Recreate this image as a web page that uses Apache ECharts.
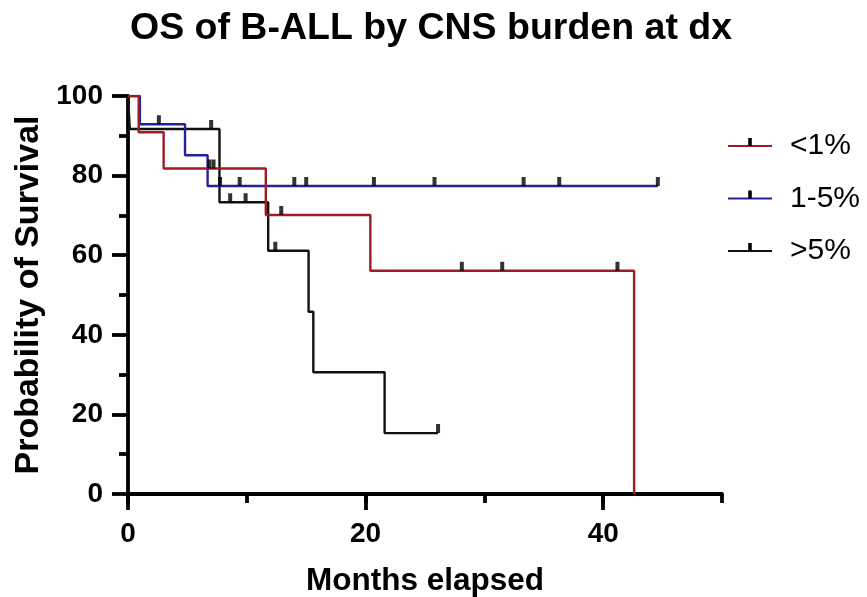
<!DOCTYPE html>
<html>
<head>
<meta charset="utf-8">
<script src="https://cdn.jsdelivr.net/npm/echarts@6/dist/echarts.min.js"></script>
<style>
  html, body { margin: 0; padding: 0; background: #fff; }
  #chart { width: 867px; height: 597px; }
</style>
</head>
<body>
<div id="chart"></div>
<script>
// survival curves (months, % surviving after the event)
var redTimes = [0, 0.9, 3.0, 11.6, 20.4, 42.6];
var redSurv = [100, 90.9, 81.8, 70.1, 56.1, 0];
var redCensor = [6.85, 7.2, 12.9, 28.1, 31.5, 41.2];

var blueTimes = [0, 1.0, 4.8, 6.7, 44.6];
var blueSurv = [100, 92.9, 85.1, 77.4, 77.4];
var blueCensor = [2.6, 7.75, 9.4, 14.0, 15.0, 20.7, 25.8, 33.3, 36.3, 44.6];

var blackTimes = [0, 0.15, 7.7, 11.8, 15.2, 15.6, 21.6, 26.1];
var blackSurv = [100, 91.7, 73.3, 61.1, 45.8, 30.6, 15.3, 15.3];
var blackCensor = [7.0, 8.6, 9.9, 12.4, 26.1];

var groups = ['<1%', '1-5%', '>5%'];
var colors = ['#9e1c22', '#23229c', '#111111'];

var xLabels = [0, 20, 40];

// little upward tick used for censored points
var tickPath = 'path://M0,0H4V9H0Z M-7,18H11Z';

function curve(times, surv) {
  return times.map(function (t, i) { return [t, surv[i]]; });
}
// value of the step curve at time t
function survAt(times, surv, t) {
  var s = surv[0];
  for (var i = 0; i < times.length; i++) {
    if (times[i] <= t) s = surv[i];
  }
  return s;
}
function censored(times, surv, cens) {
  return cens.map(function (t) { return [t, survAt(times, surv, t)]; });
}

var font = 'Liberation Sans, Arial, sans-serif';
var curves = [
  [blackTimes, blackSurv, blackCensor, 2],
  [blueTimes, blueSurv, blueCensor, 1],
  [redTimes, redSurv, redCensor, 0]
];

var series = [];
curves.forEach(function (c) {
  series.push({
    name: groups[c[3]],
    type: 'line',
    step: 'end',
    data: curve(c[0], c[1]),
    showSymbol: false,
    symbol: tickPath,
    symbolSize: 18,
    itemStyle: { color: '#000' },
    lineStyle: { color: colors[c[3]], width: 2.4 },
    z: 3
  });
});
curves.forEach(function (c) {
  series.push({
    name: groups[c[3]] + ' censored',
    type: 'scatter',
    data: censored(c[0], c[1], c[2]),
    symbol: tickPath,
    symbolSize: 18,
    itemStyle: { color: '#000' },
    z: 4
  });
});
// second grid only carries the long x ticks at 0, 20, 40
series.push({ type: 'scatter', xAxisIndex: 1, yAxisIndex: 1, data: [], silent: true });

var axisCol = { color: '#000', width: 3.8 };
var chart = echarts.init(document.getElementById('chart'));
chart.setOption({
  animation: false,
  title: {
    text: 'OS of B-ALL by CNS burden at dx',
    left: 426,
    textAlign: 'center',
    top: 5,
    textStyle: { fontFamily: font, fontSize: 37.5, fontWeight: 'bold', color: '#000' }
  },
  legend: {
    data: groups.slice(),
    orient: 'vertical',
    left: 722,
    top: 126,
    itemWidth: 44,
    itemHeight: 20,
    itemGap: 22.5,
    textStyle: { fontFamily: font, fontSize: 30, color: '#000', padding: [0, 0, 0, 13] }
  },
  grid: [
    { left: 128, width: 594, top: 96, bottom: 103, outerBoundsMode: 'none' },
    { left: 128, width: 475.2, top: 96, bottom: 103, outerBoundsMode: 'none' }
  ],
  xAxis: [
    {
      type: 'value', min: 0, max: 50, interval: 10, gridIndex: 0,
      name: 'Months elapsed', nameLocation: 'middle', nameGap: 71,
      nameTextStyle: { fontFamily: font, fontSize: 31.5, fontWeight: 'bold', color: '#000' },
      axisLine: { lineStyle: axisCol },
      axisTick: { length: 9, lineStyle: axisCol },
      axisLabel: {
        margin: 26, fontFamily: font, fontSize: 28, fontWeight: 'bold', color: '#000',
        formatter: function (v) { return xLabels.indexOf(v) >= 0 ? v : ''; }
      },
      splitLine: { show: false }
    },
    {
      type: 'value', min: 0, max: 40, interval: 20, gridIndex: 1,
      axisLine: { show: false },
      axisTick: { length: 16, lineStyle: axisCol },
      axisLabel: { show: false },
      splitLine: { show: false }
    }
  ],
  yAxis: [
    {
      type: 'value', min: 0, max: 100, interval: 20, gridIndex: 0,
      name: 'Probability of Survival', nameLocation: 'middle', nameGap: 66,
      nameTextStyle: { fontFamily: font, fontSize: 34, fontWeight: 'bold', color: '#000' },
      axisLine: { show: true, lineStyle: axisCol },
      axisTick: { show: true, length: 16, lineStyle: axisCol },
      minorTick: { show: true, splitNumber: 2, length: 9, lineStyle: axisCol },
      axisLabel: { margin: 25, fontFamily: font, fontSize: 28, fontWeight: 'bold', color: '#000' },
      splitLine: { show: false }
    },
    {
      type: 'value', min: 0, max: 100, gridIndex: 1, show: false
    }
  ],
  series: series
});
</script>
</body>
</html>
